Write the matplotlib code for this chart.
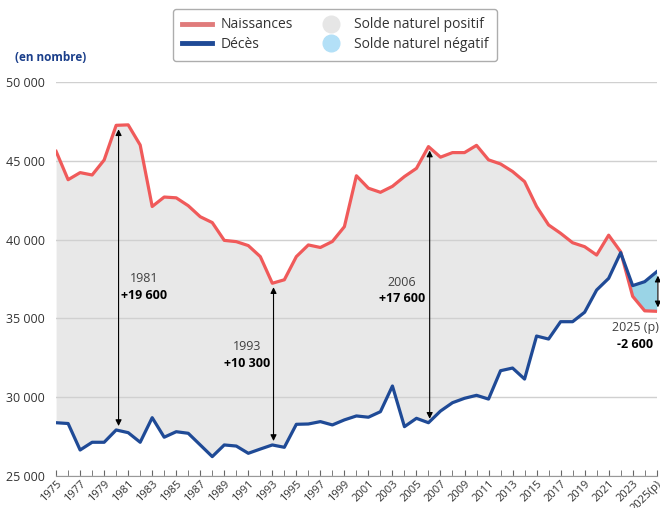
import numpy as np
import matplotlib
matplotlib.use("Agg")
import matplotlib.pyplot as plt
from matplotlib.lines import Line2D

plt.rcParams['font.family'] = ['Open Sans', 'DejaVu Sans']

#%% data

years = np.arange(1975, 2026)

naissances = [45600, 43800, 44250, 44100, 45050, 47250, 47280, 46000, 42100, 42700,
              42650, 42150, 41450, 41080, 39950, 39870, 39620, 38920, 37230, 37450,
              38920, 39660, 39500, 39880, 40820, 44050, 43260, 43000, 43380, 44000,
              44520, 45900, 45230, 45520, 45520, 45980, 45060, 44800, 44320, 43680,
              42100, 40930, 40400, 39800, 39550, 39020, 40280, 39230, 36400, 35480,
              35450]

deces = [28380, 28330, 26650, 27140, 27140, 27920, 27750, 27140, 28700, 27460,
         27810, 27710, 26970, 26230, 26970, 26900, 26440, 26710, 26970, 26820,
         28280, 28300, 28450, 28240, 28560, 28810, 28730, 29080, 30710, 28130,
         28660, 28380, 29120, 29650, 29930, 30120, 29880, 31680, 31850, 31150,
         33880, 33690, 34790, 34790, 35390, 36800, 37540, 39170, 37080, 37330,
         37960]

# annotated gaps: (x position, label year, label value, text x, text y)
gaps = [(1980.2, "1981", "+19 600", 1982.3, 37500),
        (1993.1, "1993", "+10 300", 1990.9, 33200),
        (2006.1, "2006", "+17 600", 2003.8, 37300),
        (2025.1, "2025 (p)", "-2 600", 2023.2, 34400)]

xlabels = [str(y) for y in range(1975, 2025, 2)] + ["2025(p)"]
yticks = [25000, 30000, 35000, 40000, 45000, 50000]

#%% plot

c_nais = "#f05a5a"
c_dec = "#1f4a96"
c_pos = "#e8e8e8"
c_neg = "#9ad4e6"

fig = plt.figure(figsize=(6.6, 5.08), dpi=100)
ax = fig.add_axes([0.085, 0.063, 0.910, 0.7756])

nais = np.array(naissances)
dec = np.array(deces)

ax.fill_between(years, nais, dec, where=nais >= dec, interpolate=True, color=c_pos, lw=0)
ax.fill_between(years, nais, dec, where=nais <= dec, interpolate=True, color=c_neg, lw=0)
ax.plot(years, nais, color=c_nais, lw=2.3, zorder=3)
ax.plot(years, dec, color=c_dec, lw=2.3, zorder=4)

# arrows and labels
for x, yr, val, tx, ty in gaps:
    i = int(round(min(x, 2025))) - 1975
    top, bot = max(nais[i], dec[i]), min(nais[i], dec[i])
    ax.annotate("", xy=(x, top - 250), xytext=(x, bot + 250),
                arrowprops=dict(arrowstyle="<|-|>", color="black", lw=0.8,
                                mutation_scale=9, shrinkA=0, shrinkB=0),
                annotation_clip=False, zorder=5)
    ax.text(tx, ty, yr, ha="center", va="center", fontsize=9, color="#404040")
    ax.text(tx, ty - 1050, val, ha="center", va="center", fontsize=9,
            fontweight="bold", color="black")

ax.set_xlim(1975, 2025)
ax.set_ylim(25000, 50000)

ax.set_yticks(yticks)
ax.set_yticklabels([f"{v:,}".replace(",", " ") for v in yticks], fontsize=9, color="#333333")
ax.tick_params(axis="y", length=0, pad=8)
ax.yaxis.grid(True, color="#d0d0d0", lw=1)

ax.set_xticks(years, minor=True)
ax.set_xticks(list(range(1975, 2025, 2)) + [2025])
ax.set_xticklabels(xlabels, rotation=45, ha="right", rotation_mode="anchor",
                   fontsize=8, color="#333333")
ax.tick_params(axis="x", which="both", direction="in", length=4, color="#666666", pad=2)

for s in ["top", "right", "left"]:
    ax.spines[s].set_visible(False)
ax.spines["bottom"].set_color("#999999")

fig.text(0.022, 0.886, "(en nombre)", fontsize=8.5, fontweight="bold",
         color="#1b3f8b", ha="left", va="center")

handles = [Line2D([], [], color="#e07b7b", lw=3.5),
           Line2D([], [], color=c_dec, lw=3.5),
           Line2D([], [], ls="none", marker="o", ms=12, color="#e6e6e6"),
           Line2D([], [], ls="none", marker="o", ms=12, color="#b3e0f7")]
labels = ["Naissances", "Décès", "Solde naturel positif", "Solde naturel négatif"]
leg = fig.legend(handles, labels, ncol=2, loc="upper center",
                 bbox_to_anchor=(0.508, 0.982), fontsize=10, frameon=True,
                 handlelength=2.2, columnspacing=1.6, labelspacing=0.35,
                 handletextpad=0.6, borderpad=0.6, borderaxespad=0,
                 edgecolor="#999999")
leg.get_frame().set_linewidth(1)
for t in leg.get_texts():
    t.set_color("#333333")

plt.savefig("out.png", dpi=100)
